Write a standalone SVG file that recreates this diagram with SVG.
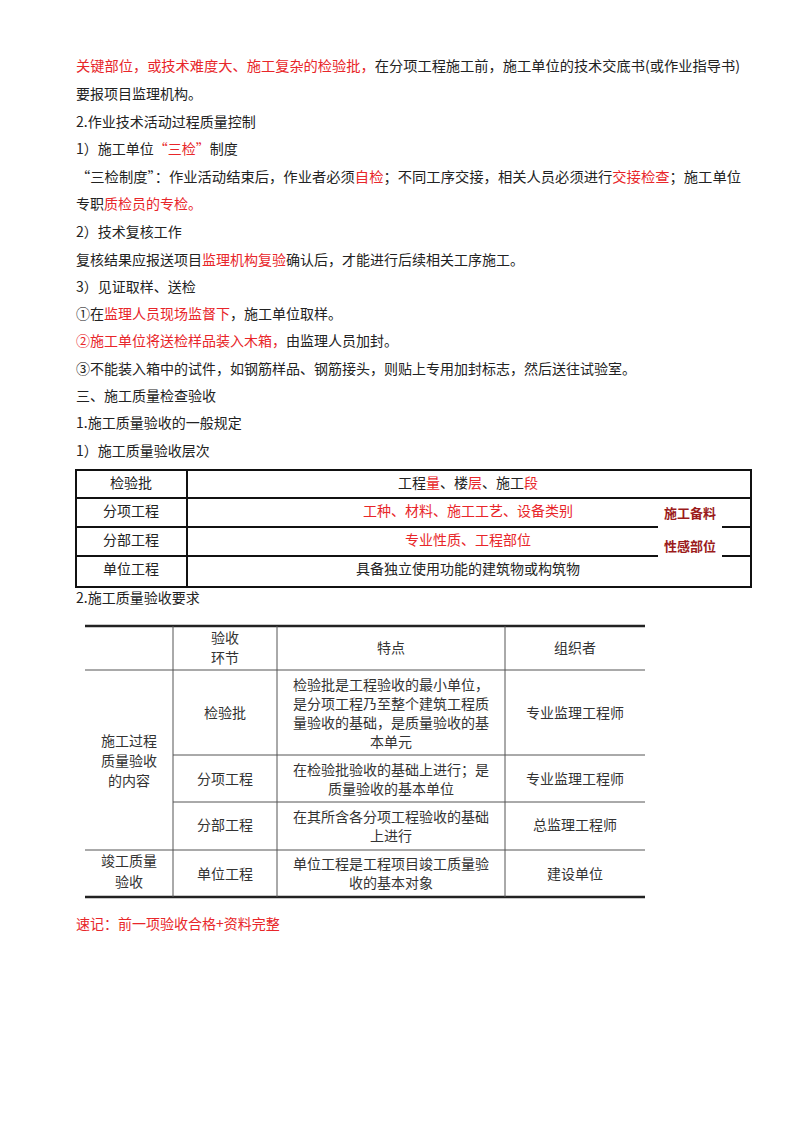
<svg xmlns="http://www.w3.org/2000/svg" width="800" height="1132" viewBox="0 0 800 1132">
<style>
text{font-family:"Noto Sans CJK SC","Liberation Serif",serif;font-size:14px;fill:#222}
.r{fill:#e8262a}
.dr{fill:#9b1b1b;font-weight:bold;font-size:13px}
.c{text-anchor:middle}
.t2{font-size:14px;fill:#333}
.b{stroke:#111;stroke-width:2;fill:none}
.g{stroke:#555;stroke-width:1;fill:none}
</style>
<rect width="800" height="1132" fill="#fff"/>
<g id="text">
<text x="76" y="71" textLength="664" lengthAdjust="spacingAndGlyphs"><tspan class="r">关键部位，或技术难度大、施工复杂的检验批，</tspan>在分项工程施工前，施工单位的技术交底书(或作业指导书)</text>
<text x="76" y="99">要报项目监理机构。</text>
<text x="76" y="127">2.作业技术活动过程质量控制</text>
<text x="76" y="154">1）施工单位<tspan class="r">“三检”</tspan>制度</text>
<text x="76" y="182" textLength="665" lengthAdjust="spacingAndGlyphs">“三检制度”：作业活动结束后，作业者必须<tspan class="r">自检</tspan>；不同工序交接，相关人员必须进行<tspan class="r">交接检查</tspan>；施工单位</text>
<text x="76" y="209">专职<tspan class="r">质检员的专检。</tspan></text>
<text x="76" y="237">2）技术复核工作</text>
<text x="76" y="265">复核结果应报送项目<tspan class="r">监理机构复验</tspan>确认后，才能进行后续相关工序施工。</text>
<text x="76" y="292">3）见证取样、送检</text>
<text x="76" y="319">①在<tspan class="r">监理人员现场监督下</tspan>，施工单位取样。</text>
<text x="76" y="346"><tspan class="r">②施工单位将送检样品装入木箱，</tspan>由监理人员加封。</text>
<text x="76" y="374">③不能装入箱中的试件，如钢筋样品、钢筋接头，则贴上专用加封标志，然后送往试验室。</text>
<text x="76" y="401">三、施工质量检查验收</text>
<text x="76" y="428">1.施工质量验收的一般规定</text>
<text x="76" y="456">1）施工质量验收层次</text>
<text x="76" y="603">2.施工质量验收要求</text>
<text x="76" y="929" class="r">速记：前一项验收合格+资料完整</text>
</g>
<g id="table1">
<rect class="b" x="76" y="470" width="675" height="117"/>
<line class="b" x1="187" y1="470" x2="187" y2="587"/>
<line class="b" x1="76" y1="498" x2="751" y2="498"/>
<line class="b" x1="76" y1="527" x2="751" y2="527"/>
<line class="b" x1="76" y1="556" x2="751" y2="556"/>
<text class="c" x="131" y="488">检验批</text>
<text class="c" x="131" y="516">分项工程</text>
<text class="c" x="131" y="545">分部工程</text>
<text class="c" x="131" y="574">单位工程</text>
<text class="c" x="468" y="488">工程<tspan class="r">量</tspan>、楼<tspan class="r">层</tspan>、施工<tspan class="r">段</tspan></text>
<text class="c r" x="468" y="516">工种、材料、施工工艺、设备类别</text>
<text class="c r" x="468" y="545">专业性质、工程部位</text>
<text class="c" x="468" y="574">具备独立使用功能的建筑物或构筑物</text>
<rect x="658" y="499" width="64" height="60" fill="#fff"/>
<text class="c dr" x="690" y="518">施工备料</text>
<text class="c dr" x="690" y="551">性感部位</text>
</g>
<g id="table2">
<line x1="85" y1="626" x2="645" y2="626" stroke="#222" stroke-width="2.5"/>
<line x1="85" y1="897" x2="645" y2="897" stroke="#222" stroke-width="2.5"/>
<line class="g" x1="85" y1="670" x2="645" y2="670"/>
<line class="g" x1="173" y1="755" x2="645" y2="755"/>
<line class="g" x1="173" y1="802" x2="645" y2="802"/>
<line class="g" x1="85" y1="850" x2="645" y2="850"/>
<line class="g" x1="173" y1="626" x2="173" y2="897"/>
<line class="g" x1="277" y1="626" x2="277" y2="897"/>
<line class="g" x1="505" y1="626" x2="505" y2="897"/>
<text class="c t2" x="225" y="643">验收</text>
<text class="c t2" x="225" y="663">环节</text>
<text class="c t2" x="391" y="653">特点</text>
<text class="c t2" x="575" y="653">组织者</text>
<text class="c t2" x="129" y="746">施工过程</text>
<text class="c t2" x="129" y="766">质量验收</text>
<text class="c t2" x="129" y="786">的内容</text>
<text class="c t2" x="129" y="866">竣工质量</text>
<text class="c t2" x="129" y="887">验收</text>
<text class="c t2" x="225" y="718">检验批</text>
<text class="c t2" x="225" y="784">分项工程</text>
<text class="c t2" x="225" y="830">分部工程</text>
<text class="c t2" x="225" y="879">单位工程</text>
<text class="c t2" x="391" y="690">检验批是工程验收的最小单位，</text>
<text class="c t2" x="391" y="709">是分项工程乃至整个建筑工程质</text>
<text class="c t2" x="391" y="728">量验收的基础，是质量验收的基</text>
<text class="c t2" x="391" y="747">本单元</text>
<text class="c t2" x="391" y="775">在检验批验收的基础上进行；是</text>
<text class="c t2" x="391" y="794">质量验收的基本单位</text>
<text class="c t2" x="391" y="822">在其所含各分项工程验收的基础</text>
<text class="c t2" x="391" y="841">上进行</text>
<text class="c t2" x="391" y="869">单位工程是工程项目竣工质量验</text>
<text class="c t2" x="391" y="888">收的基本对象</text>
<text class="c t2" x="575" y="718">专业监理工程师</text>
<text class="c t2" x="575" y="784">专业监理工程师</text>
<text class="c t2" x="575" y="830">总监理工程师</text>
<text class="c t2" x="575" y="879">建设单位</text>
</g>
</svg>
